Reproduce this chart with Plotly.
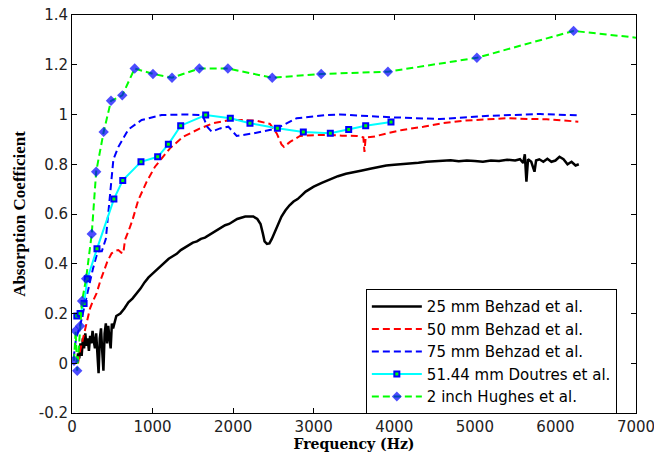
import plotly.graph_objects as go

# 25 mm Behzad et al.
f_25 = [60,75,90,105,120,135,150,165,180,195,210,225,240,255,270,285,300,315,330,345,360,375,390,405,420,435,450,465,480,495,510,
        550,600,650,700,750,800,850,900,950,1000,1050,1100,1150,1200,1250,1300,1350,1400,1450,1500,1550,1600,1650,1700,1750,1800,
        1850,1900,1950,2000,2050,2100,2150,2200,2250,2300,2340,2370,2390,2420,2450,2480,2520,2560,2600,2650,2700,2750,2800,2850,
        2900,2950,3000,3100,3200,3300,3400,3500,3600,3700,3800,3900,4000,4100,4200,4300,4400,4500,4600,4700,4800,4900,5000,5100,
        5200,5300,5400,5500,5560,5600,5620,5640,5660,5700,5740,5760,5800,5850,5900,5950,6000,6050,6100,6150,6200,6250,6290]
a_25 = [0.0,0.04,0.02,0.08,0.03,0.1,0.06,0.12,0.07,0.1,0.05,0.11,0.08,0.13,0.09,0.06,0.12,0.02,-0.04,0.1,0.14,0.05,-0.03,0.12,0.16,0.08,0.15,0.1,0.06,0.16,0.14,
        0.19,0.2,0.22,0.245,0.26,0.28,0.3,0.325,0.345,0.36,0.375,0.39,0.405,0.42,0.43,0.44,0.455,0.465,0.475,0.485,0.49,0.5,0.505,0.515,0.525,0.535,
        0.545,0.555,0.56,0.57,0.58,0.585,0.59,0.59,0.59,0.58,0.56,0.52,0.49,0.48,0.482,0.5,0.53,0.56,0.59,0.615,0.635,0.65,0.66,0.675,
        0.69,0.7,0.71,0.725,0.74,0.752,0.762,0.77,0.775,0.782,0.79,0.795,0.798,0.8,0.805,0.806,0.81,0.812,0.815,0.816,0.812,0.815,0.813,0.81,
        0.815,0.813,0.818,0.815,0.82,0.805,0.84,0.73,0.82,0.81,0.77,0.815,0.82,0.81,0.822,0.81,0.815,0.83,0.82,0.8,0.81,0.795,0.8]

# 50 mm Behzad et al.
f_50 = [75,100,130,160,190,223,260,306,350,389,440,492,540,575,610,637,658,700,750,823,927,1030,1130,1216,1382,1589,1754,1961,2100,
        2292,2457,2541,2600,2631,2706,2830,3000,3161,3350,3533,3616,3630,3645,3760,3905,4100,4360,4600,4857,5100,5395,5650,5892,6100,6284]
a_50 = [0.0,0.05,0.09,0.134,0.18,0.22,0.25,0.282,0.33,0.362,0.41,0.442,0.452,0.455,0.445,0.442,0.496,0.53,0.575,0.656,0.73,0.79,0.83,0.864,0.911,0.944,0.965,0.978,0.978,
        0.975,0.962,0.924,0.88,0.87,0.89,0.914,0.917,0.918,0.915,0.914,0.908,0.85,0.908,0.912,0.924,0.938,0.951,0.965,0.975,0.98,0.985,0.982,0.981,0.976,0.971]

# 75 mm Behzad et al.
f_75 = [20,50,100,150,200,260,320,370,420,470,514,576,700,865,1113,1400,1620,1680,1734,1837,1940,2044,2250,2540,2789,3161,3326,3947,4567,5188,5809,6264]
a_75 = [0.02,0.1,0.15,0.22,0.3,0.38,0.45,0.45,0.5,0.66,0.82,0.87,0.94,0.978,0.998,1.0,0.998,0.95,0.931,0.944,0.951,0.914,0.924,0.944,0.985,0.998,1.0,0.989,0.982,0.995,1.002,0.997]

# 51.44 mm Doutres et al.
f_d = [60,100,150,190,310,520,630,856,1063,1196,1349,1659,1965,2209,2549,2871,3206,3434,3645,3959]
a_d = [0.19,0.2,0.24,0.34,0.46,0.66,0.735,0.81,0.83,0.88,0.955,0.998,0.985,0.965,0.945,0.93,0.925,0.94,0.955,0.97]

# 2 inch Hughes et al.
f_h = [25,45,65,100,125,175,245,300,393,484,624,778,1005,1241,1580,1935,2485,3093,3921,5025,6225,7000]
a_h = [0.01,0.13,-0.03,0.15,0.25,0.34,0.52,0.77,0.93,1.055,1.077,1.185,1.163,1.148,1.185,1.185,1.148,1.163,1.172,1.228,1.336,1.309]

x_ticks = [0,1000,2000,3000,4000,5000,6000,7000]
y_ticks = [-0.2,0,0.2,0.4,0.6,0.8,1,1.2,1.4]
y_tick_text = ["-0.2","0","0.2","0.4","0.6","0.8","1","1.2","1.4"]

DASH = "7px,4px"

fig = go.Figure()
fig.add_trace(go.Scatter(x=f_25, y=a_25, mode="lines", name="25 mm Behzad et al.",
                         line=dict(color="black", width=2.5)))
fig.add_trace(go.Scatter(x=f_50, y=a_50, mode="lines", name="50 mm Behzad et al.",
                         line=dict(color="red", width=2, dash=DASH)))
fig.add_trace(go.Scatter(x=f_75, y=a_75, mode="lines", name="75 mm Behzad et al.",
                         line=dict(color="#0000ff", width=2, dash=DASH)))
fig.add_trace(go.Scatter(x=f_d, y=a_d, mode="lines+markers", name="51.44 mm Doutres et al.",
                         line=dict(color="cyan", width=2),
                         marker=dict(symbol="square", size=5, color="#00ff00",
                                     line=dict(color="#0000ff", width=2))))
sizes_h = [8] * (len(f_h) - 1) + [0]
fig.add_trace(go.Scatter(x=f_h, y=a_h, mode="lines+markers", name="2 inch Hughes et al.",
                         line=dict(color="#00ff00", width=2, dash=DASH),
                         marker=dict(symbol="diamond", size=sizes_h, color="#0000ff",
                                     line=dict(width=0))))

axis_common = dict(showline=True, linecolor="black", linewidth=1, mirror="ticks",
                   ticks="inside", ticklen=5, tickcolor="black", showgrid=False, zeroline=False,
                   automargin=False, ticklabeloverflow="allow",
                   tickfont=dict(family="DejaVu Sans", size=15, color="#222222"))
fig.update_xaxes(range=[0, 7000], tickvals=x_ticks, **axis_common,
                 title=dict(text="<b>Frequency (Hz)</b>", standoff=4,
                            font=dict(family="DejaVu Serif", size=14, color="black")))
fig.update_yaxes(range=[-0.2, 1.4], tickvals=y_ticks, ticktext=y_tick_text, **axis_common,
                 title=dict(text="<b>Absorption Coefficient</b>", standoff=8,
                            font=dict(family="Liberation Serif, Times New Roman", size=17, color="black")))

fig.update_layout(
    width=654, height=456,
    margin=dict(l=72, r=18, t=15, b=43, autoexpand=False),
    plot_bgcolor="white", paper_bgcolor="white",
    showlegend=True,
    legend=dict(x=0.521, y=0.311, xanchor="left", yanchor="top",
                bordercolor="black", borderwidth=1, bgcolor="white",
                font=dict(family="DejaVu Sans", size=15, color="black"),
                tracegroupgap=0, itemwidth=50),
)

fig.write_html("out.html", config={"displayModeBar": False},
               post_script="document.body.style.margin='0';")
